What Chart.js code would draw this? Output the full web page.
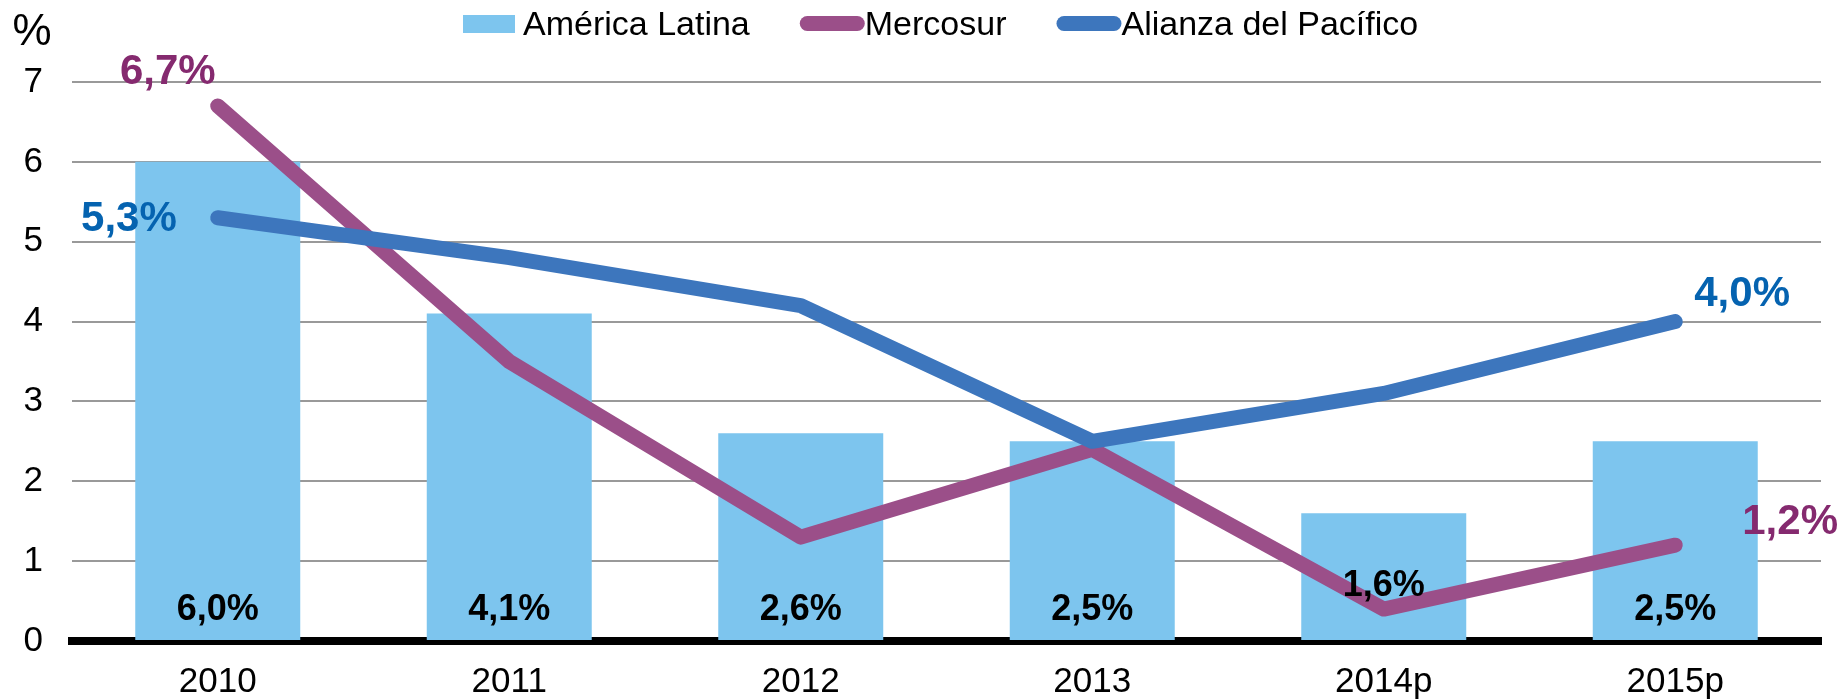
<!DOCTYPE html>
<html>
<head>
<meta charset="utf-8">
<script src="https://cdn.jsdelivr.net/npm/chart.js@4"></script>
<style>
html, body { margin: 0; padding: 0; background: #fff; }
#wrap { width: 1848px; height: 700px; position: relative; }
</style>
</head>
<body>
<div id="wrap"><canvas id="chart"></canvas></div>
<script>
const years = ['2010', '2011', '2012', '2013', '2014p', '2015p']
const americaLatina = [6.0, 4.1, 2.6, 2.5, 1.6, 2.5]
const mercosur = [6.7, 3.5, 1.3, 2.4, 0.4, 1.2]
const alianza = [5.3, 4.8, 4.2, 2.5, 3.1, 4.0]
const yMin = 0
const yMax = 7

const FONT = "'Liberation Sans', Arial, sans-serif"
const fmt = v => v.toFixed(1).replace('.', ',') + '%'

// value labels: bars near the base, lines only at both ends
const labelPlugin = {
	id: 'valueLabels',
	afterDatasetsDraw(chart) {
		const ctx = chart.ctx
		const base = chart.scales.y.getPixelForValue(0)
		ctx.save()
		ctx.textBaseline = 'middle'
		ctx.textAlign = 'center'
		ctx.fillStyle = '#000'
		ctx.font = 'bold 36px ' + FONT
		chart.getDatasetMeta(0).data.forEach((bar, i) => {
			const lift = i === 4 ? 55 : 31
			ctx.fillText(fmt(americaLatina[i]), bar.x, base - lift)
		})

		ctx.font = 'bold 42px ' + FONT
		const ends = [
			{ ds: 1, i: 0, dx: -50, dy: -34, align: 'center', color: '#852A6F' },
			{ ds: 1, i: 5, dx: 67, dy: -23, align: 'left', color: '#852A6F' },
			{ ds: 2, i: 0, dx: -41, dy: 2, align: 'right', color: '#0563B0' },
			{ ds: 2, i: 5, dx: 19, dy: -27, align: 'left', color: '#0563B0' }
		]
		ends.forEach(e => {
			const pt = chart.getDatasetMeta(e.ds).data[e.i]
			const value = chart.data.datasets[e.ds].data[e.i]
			ctx.fillStyle = e.color
			ctx.textAlign = e.align
			ctx.fillText(fmt(value), pt.x + e.dx, pt.y + e.dy)
		})
		ctx.restore()
	}
}

// legend across the top + the "%" unit
const legendPlugin = {
	id: 'topLegend',
	afterDraw(chart) {
		const ctx = chart.ctx
		ctx.save()
		ctx.font = '34px ' + FONT
		ctx.textAlign = 'left'
		ctx.textBaseline = 'alphabetic'
		let x = 463
		chart.data.datasets.forEach(ds => {
			if (ds.type === 'bar') {
				ctx.fillStyle = ds.backgroundColor
				ctx.fillRect(x, 15, 52, 18)
				x += 60
			} else {
				ctx.strokeStyle = ds.borderColor
				ctx.lineWidth = 15
				ctx.lineCap = 'round'
				ctx.beginPath()
				ctx.moveTo(x + 7.5, 23.5)
				ctx.lineTo(x + 57.5, 23.5)
				ctx.stroke()
				x += 65
			}
			ctx.fillStyle = '#000'
			ctx.fillText(ds.label, x, 35)
			x += ctx.measureText(ds.label).width + 50
		})

		ctx.font = '44px ' + FONT
		ctx.textAlign = 'center'
		ctx.textBaseline = 'alphabetic'
		ctx.fillText('%', 32, 45)
		ctx.restore()
	}
}

const lineStyle = {
	type: 'line',
	borderWidth: 15,
	borderCapStyle: 'round',
	borderJoinStyle: 'round',
	pointRadius: 0,
	pointHoverRadius: 0,
	tension: 0,
	fill: false,
	clip: false
}

new Chart(document.getElementById('chart'), {
	data: {
		labels: years,
		datasets: [
			{
				type: 'bar',
				label: 'América Latina',
				data: americaLatina,
				backgroundColor: '#7DC5EE',
				barPercentage: 0.566,
				categoryPercentage: 1,
				order: 3
			},
			Object.assign({}, lineStyle, {
				label: 'Mercosur',
				data: mercosur,
				borderColor: '#9B4F89',
				order: 2
			}),
			Object.assign({}, lineStyle, {
				label: 'Alianza del Pacífico',
				data: alianza,
				borderColor: '#3D76BD',
				order: 1
			})
		]
	},
	options: {
		responsive: true,
		maintainAspectRatio: false,
		animation: false,
		layout: { padding: { top: 82, right: 27, left: 0, bottom: 0 } },
		plugins: {
			legend: { display: false },
			tooltip: { enabled: false }
		},
		scales: {
			x: {
				z: 1,
				grid: { display: false },
				border: { color: '#000', width: 8 },
				ticks: { color: '#000', font: { size: 35, family: FONT }, padding: 12 },
				afterFit: s => { s.height = 59 }
			},
			y: {
				min: yMin,
				max: yMax,
				ticks: { stepSize: 1, color: '#000', font: { size: 35, family: FONT }, padding: 29 },
				grid: { color: '#999999', lineWidth: 2, drawTicks: false },
				border: { display: false },
				afterFit: s => { s.width = 72 }
			}
		}
	},
	plugins: [labelPlugin, legendPlugin]
})
</script>
</body>
</html>
